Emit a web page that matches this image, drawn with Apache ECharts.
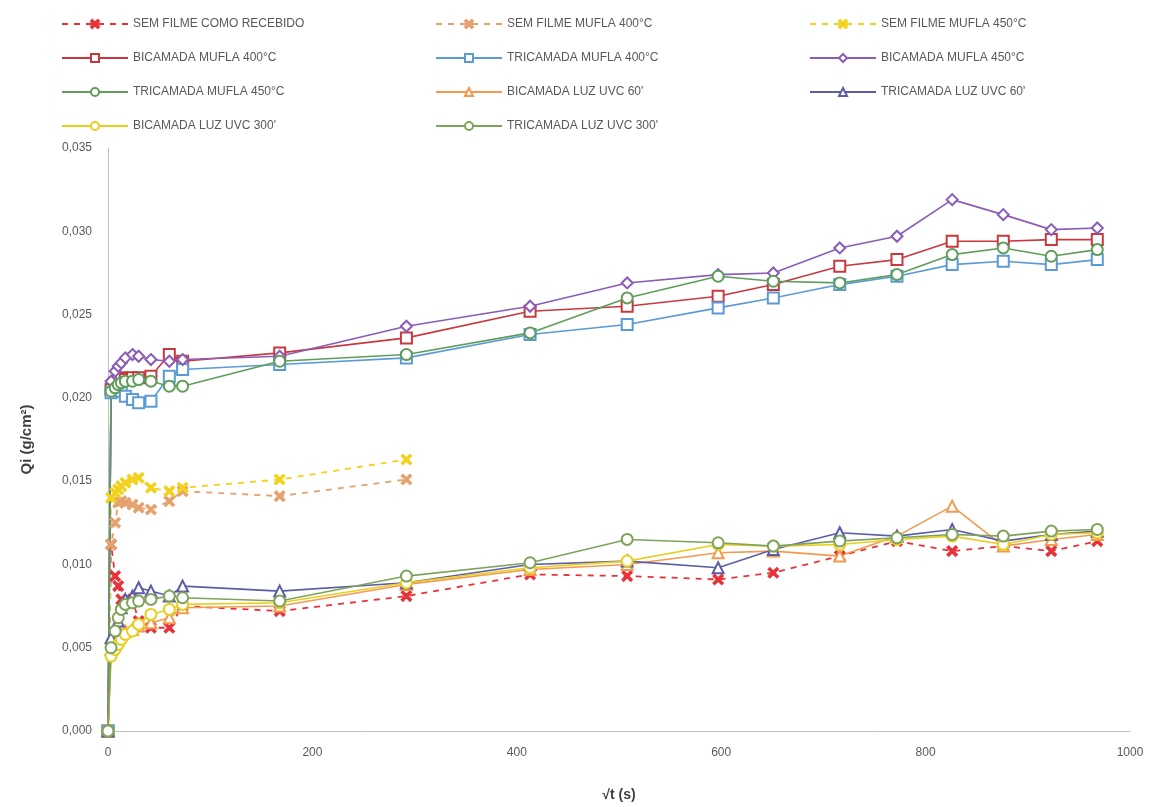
<!DOCTYPE html>
<html>
<head>
<meta charset="utf-8">
<script src="https://cdn.jsdelivr.net/npm/echarts@6/dist/echarts.min.js"></script>
<style>
  html, body { margin: 0; padding: 0; background: #fff; }
  #chart { width: 1150px; height: 807px; }
</style>
</head>
<body>
<div id="chart"></div>
<script>
// √t sampling points (s^1/2)
const sqrtTimeFull = [0, 3, 7, 10, 13, 17, 24, 30, 42, 60, 73, 168, 292, 413, 508, 597, 651, 716, 772, 826, 876, 923, 968];
const sqrtTimeShort = [0, 3, 7, 10, 13, 17, 24, 30, 42, 60, 73, 168, 292];

// Qi (g/cm²) per sample
const semFilmeRecebido = [0, 0.0112, 0.0093, 0.0087, 0.0079, 0.0077, 0.0079, 0.0066, 0.0062, 0.0062, 0.0075, 0.0072, 0.0081, 0.0094, 0.0093, 0.0091, 0.0095, 0.0105, 0.0114, 0.0108, 0.0111, 0.0108, 0.0114];
const semFilmeMufla400 = [0, 0.0112, 0.0125, 0.0137, 0.0138, 0.0137, 0.0136, 0.0134, 0.0133, 0.0138, 0.0144, 0.0141, 0.0151];
const semFilmeMufla450 = [0, 0.0140, 0.0143, 0.0145, 0.0147, 0.0149, 0.0151, 0.0152, 0.0146, 0.0144, 0.0146, 0.0151, 0.0163];
const bicamadaMufla400 = [0, 0.0205, 0.0209, 0.0211, 0.0212, 0.0211, 0.0212, 0.0212, 0.0213, 0.0226, 0.0222, 0.0227, 0.0236, 0.0252, 0.0255, 0.0261, 0.0268, 0.0279, 0.0283, 0.0294, 0.0294, 0.0295, 0.0295];
const tricamadaMufla400 = [0, 0.0203, 0.0206, 0.0205, 0.0204, 0.0201, 0.0199, 0.0197, 0.0198, 0.0213, 0.0217, 0.0220, 0.0224, 0.0238, 0.0244, 0.0254, 0.0260, 0.0268, 0.0273, 0.0280, 0.0282, 0.0280, 0.0283];
const bicamadaMufla450 = [0, 0.0210, 0.0216, 0.0219, 0.0221, 0.0224, 0.0226, 0.0225, 0.0223, 0.0222, 0.0223, 0.0225, 0.0243, 0.0255, 0.0269, 0.0274, 0.0275, 0.0290, 0.0297, 0.0319, 0.0310, 0.0301, 0.0302];
const tricamadaMufla450 = [0, 0.0204, 0.0206, 0.0208, 0.0209, 0.0210, 0.0210, 0.0211, 0.0210, 0.0207, 0.0207, 0.0222, 0.0226, 0.0239, 0.0260, 0.0273, 0.0270, 0.0269, 0.0274, 0.0286, 0.0290, 0.0285, 0.0289];
const bicamadaUvc60 = [0, 0.0049, 0.0054, 0.0056, 0.0058, 0.0060, 0.0061, 0.0063, 0.0065, 0.0068, 0.0074, 0.0075, 0.0088, 0.0097, 0.0100, 0.0107, 0.0108, 0.0105, 0.0117, 0.0135, 0.0111, 0.0115, 0.0118];
const tricamadaUvc60 = [0, 0.0056, 0.0061, 0.0066, 0.0074, 0.0079, 0.0081, 0.0086, 0.0084, 0.0081, 0.0087, 0.0084, 0.0089, 0.0100, 0.0102, 0.0098, 0.0109, 0.0119, 0.0117, 0.0121, 0.0114, 0.0118, 0.0120];
const bicamadaUvc300 = [0, 0.0045, 0.0049, 0.0052, 0.0055, 0.0058, 0.0060, 0.0064, 0.0070, 0.0073, 0.0076, 0.0077, 0.0089, 0.0098, 0.0102, 0.0112, 0.0111, 0.0112, 0.0115, 0.0117, 0.0112, 0.0118, 0.0119];
const tricamadaUvc300 = [0, 0.0050, 0.0060, 0.0068, 0.0073, 0.0076, 0.0077, 0.0078, 0.0079, 0.0081, 0.0080, 0.0078, 0.0093, 0.0101, 0.0115, 0.0113, 0.0111, 0.0114, 0.0116, 0.0118, 0.0117, 0.0120, 0.0121];

const xTicks = [0, 200, 400, 600, 800, 1000];

const FONT = 'Liberation Sans';
const TEXT = '#595959';
// heavy "x" marker drawn as a filled outline
const CROSS = 'path://M0,1.5L1.5,0L5,3.5L8.5,0L10,1.5L6.5,5L10,8.5L8.5,10L5,6.5L1.5,10L0,8.5L3.5,5Z';

function pairs(xs, ys) { return ys.map((y, i) => [xs[i], y]); }

function makeSeries(name, xs, ys, color, symbol, dashed) {
  const isCross = symbol === CROSS;
  return {
    name: name,
    type: 'line',
    data: pairs(xs, ys),
    symbol: symbol,
    symbolSize: isCross ? 10 : 11,
    showSymbol: true,
    lineStyle: { color: color, width: dashed ? 1.8 : 1.6, type: dashed ? [6, 6] : 'solid' },
    itemStyle: { color: color, borderColor: color, borderWidth: 1.5 },
    emphasis: { disabled: true },
    z: 2
  };
}

const seriesList = [
  makeSeries('SEM FILME COMO RECEBIDO', sqrtTimeFull, semFilmeRecebido, '#E8333B', CROSS, true),
  makeSeries('SEM FILME MUFLA 400°C', sqrtTimeShort, semFilmeMufla400, '#E6A26E', CROSS, true),
  makeSeries('SEM FILME MUFLA 450°C', sqrtTimeShort, semFilmeMufla450, '#F2D21C', CROSS, true),
  makeSeries('BICAMADA MUFLA 400°C', sqrtTimeFull, bicamadaMufla400, '#C8393F', 'emptyRect', false),
  makeSeries('TRICAMADA MUFLA 400°C', sqrtTimeFull, tricamadaMufla400, '#5B9BD5', 'emptyRect', false),
  makeSeries('BICAMADA MUFLA 450°C', sqrtTimeFull, bicamadaMufla450, '#8A5CB8', 'emptyDiamond', false),
  makeSeries('TRICAMADA MUFLA 450°C', sqrtTimeFull, tricamadaMufla450, '#5E9E5A', 'emptyCircle', false),
  makeSeries("BICAMADA LUZ UVC 60'", sqrtTimeFull, bicamadaUvc60, '#F39A4E', 'emptyTriangle', false),
  makeSeries("TRICAMADA LUZ UVC 60'", sqrtTimeFull, tricamadaUvc60, '#5B5EA6', 'emptyTriangle', false),
  makeSeries("BICAMADA LUZ UVC 300'", sqrtTimeFull, bicamadaUvc300, '#E8CF1E', 'emptyCircle', false),
  makeSeries("TRICAMADA LUZ UVC 300'", sqrtTimeFull, tricamadaUvc300, '#7FA35A', 'emptyCircle', false)
];

function legendColumn(left, idx) {
  return {
    orient: 'vertical',
    left: left,
    top: 13,
    itemWidth: 66,
    itemHeight: 10,
    itemGap: 22,
    selectedMode: false,
    textStyle: { fontFamily: FONT, fontSize: 12, color: TEXT, padding: [0, 0, 0, 0] },
    data: idx.map(i => seriesList[i].name)
  };
}

const chart = echarts.init(document.getElementById('chart'), null, { renderer: 'canvas' });
chart.setOption({
  animation: false,
  backgroundColor: '#ffffff',
  legend: [
    legendColumn(56, [0, 3, 6, 9]),
    legendColumn(430, [1, 4, 7, 10]),
    legendColumn(804, [2, 5, 8])
  ],
  grid: { left: 108, right: 20, top: 148, bottom: 74, containLabel: false },
  xAxis: {
    type: 'value',
    min: 0,
    max: 1000,
    interval: 200,
    name: '√t (s)',
    nameLocation: 'middle',
    nameGap: 57,
    nameTextStyle: { fontFamily: FONT, fontSize: 14, fontWeight: 'bold', color: '#404040' },
    axisLine: { show: true, lineStyle: { color: '#BFBFBF', width: 1 } },
    axisTick: { show: false },
    splitLine: { show: false },
    axisLabel: {
      fontFamily: FONT, fontSize: 12, color: TEXT, margin: 16,
      formatter: v => xTicks.includes(v) ? String(v) : ''
    }
  },
  yAxis: {
    type: 'value',
    min: 0,
    max: 0.035,
    interval: 0.005,
    name: 'Qi (g/cm²)',
    nameLocation: 'middle',
    nameGap: 74,
    nameRotate: 90,
    nameTextStyle: { fontFamily: FONT, fontSize: 15, fontWeight: 'bold', color: '#404040' },
    axisLine: { show: true, lineStyle: { color: '#BFBFBF', width: 1 } },
    axisTick: { show: false },
    splitLine: { show: false },
    axisLabel: {
      fontFamily: FONT, fontSize: 12, color: TEXT, margin: 16,
      formatter: v => v.toFixed(3).replace('.', ',')
    }
  },
  series: seriesList
});
</script>
</body>
</html>
